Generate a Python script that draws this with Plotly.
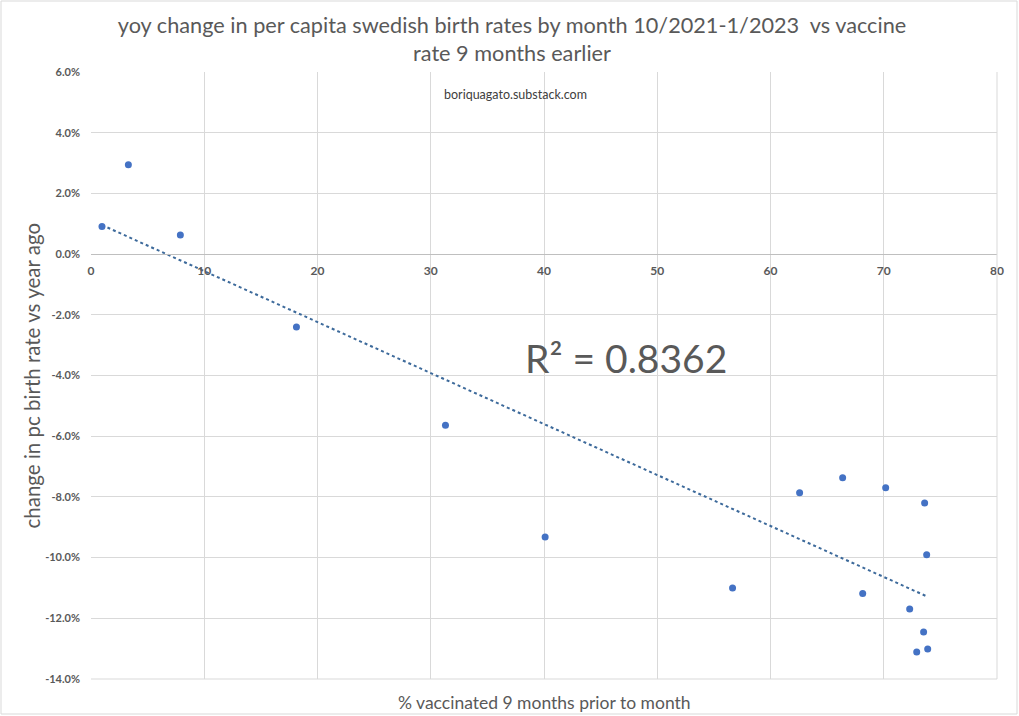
import numpy as np
import plotly.graph_objects as go

# data: % vaccinated 9 months earlier vs yoy change in birth rate (%)
vacc_pct = [3.30, 0.97, 7.89, 18.14, 31.30, 40.10, 56.65, 62.57, 66.37, 70.17,
            68.14, 73.61, 73.79, 72.29, 73.52, 72.91, 73.88]
birth_chg = [2.94, 0.91, 0.63, -2.40, -5.64, -9.32, -11.00, -7.86, -7.37, -7.70,
             -11.18, -8.20, -9.91, -11.69, -12.45, -13.11, -13.01]

x_ticks = [0, 10, 20, 30, 40, 50, 60, 70, 80]
y_ticks = [-14, -12, -10, -8, -6, -4, -2, 0, 2, 4, 6]
y_tick_labels = ["-14.0%", "-12.0%", "-10.0%", "-8.0%", "-6.0%", "-4.0%", "-2.0%",
                 "0.0%", "2.0%", "4.0%", "6.0%"]

title_text = "yoy change in per capita swedish birth rates by month 10/2021-1/2023  vs vaccine<br>rate 9 months earlier"
x_title = "% vaccinated 9 months prior to month"
y_title = "change in pc birth rate vs year ago"
r2_text = "R² = 0.8362"
watermark = "boriquagato.substack.com"

# linear trendline (least squares) drawn from min to max x
xa = np.array(vacc_pct)
ya = np.array(birth_chg)
slope, intercept = np.polyfit(xa, ya, 1)
tx = np.array([xa.min(), xa.max()])
ty = slope * tx + intercept

FONT = "Lato"
GRAY = "#595959"
GRID = "#d9d9d9"

fig = go.Figure()
fig.add_trace(go.Scatter(x=tx, y=ty, mode="lines",
                         line=dict(color="#3d6a9b", width=2, dash="dot"),
                         hoverinfo="skip", showlegend=False))
fig.add_trace(go.Scatter(x=vacc_pct, y=birth_chg, mode="markers",
                         marker=dict(color="#4472c4", size=7),
                         showlegend=False))

W, H = 1019, 716
ml, mr, mt, mb = 91, 22, 72, 37
PW, PH = W - ml - mr, H - mt - mb
ymin, ymax = -14, 6
zero_pos = (0 - ymin) / (ymax - ymin)

fig.update_layout(
    width=W, height=H,
    margin=dict(l=ml, r=mr, t=mt, b=mb, pad=0),
    paper_bgcolor="white", plot_bgcolor="white",
    font=dict(family=FONT, color=GRAY),
    title=dict(text=title_text, x=512 / W, xanchor="center", xref="container",
               y=1 - 33 / H, yanchor="middle", yref="container",
               font=dict(family=FONT, size=21.7, color=GRAY)),
    xaxis=dict(range=[0, 80], tickvals=x_ticks, showgrid=True, gridcolor=GRID,
               gridwidth=1, zeroline=False, showline=True, linecolor="#bfbfbf",
               linewidth=1, anchor="free", position=zero_pos,
               ticks="", ticklen=0, ticklabelstandoff=5,
               tickfont=dict(family=FONT, size=12, color=GRAY, weight="bold")),
    yaxis=dict(range=[ymin, ymax], tickvals=y_ticks, ticktext=y_tick_labels,
               showgrid=True, gridcolor=GRID, gridwidth=1, zeroline=False,
               showline=False, ticks="", ticklabelstandoff=10,
               tickfont=dict(family=FONT, size=11, color=GRAY, weight="bold")),
    shapes=[
        dict(type="rect", xref="paper", yref="paper",
             x0=-(ml - 1) / PW, x1=1 + (mr - 2) / PW,
             y0=-(mb - 2) / PH, y1=1 + (mt - 1) / PH,
             line=dict(color=GRID, width=1), fillcolor="rgba(0,0,0,0)", layer="below"),
        dict(type="line", xref="paper", yref="paper", x0=0, x1=1, y0=0, y1=0,
             line=dict(color=GRID, width=1)),
        dict(type="line", xref="paper", yref="paper", x0=1, x1=1, y0=0, y1=1,
             line=dict(color=GRID, width=1)),
    ],
    annotations=[
        dict(text=r2_text, x=47.2, y=-3.41, xref="x", yref="y", showarrow=False,
             font=dict(family=FONT, size=39, color=GRAY)),
        dict(text=watermark, x=0.468, y=1 - 13 / PH, xref="paper", yref="paper",
             showarrow=False, font=dict(family=FONT, size=12.5, color="#404040")),
        dict(text=x_title, x=0.5, y=-(mb - 14) / PH, xref="paper", yref="paper",
             showarrow=False, yanchor="middle",
             font=dict(family=FONT, size=17.5, color=GRAY)),
        dict(text=y_title, x=-(ml - 31) / PW, y=0.5, xref="paper", yref="paper",
             showarrow=False, textangle=-90, xanchor="center",
             font=dict(family=FONT, size=20.5, color=GRAY)),
    ],
)

fig.write_html("out.html", config={"displayModeBar": False},
               post_script="document.body.style.margin='0';document.body.style.overflow='hidden';")
